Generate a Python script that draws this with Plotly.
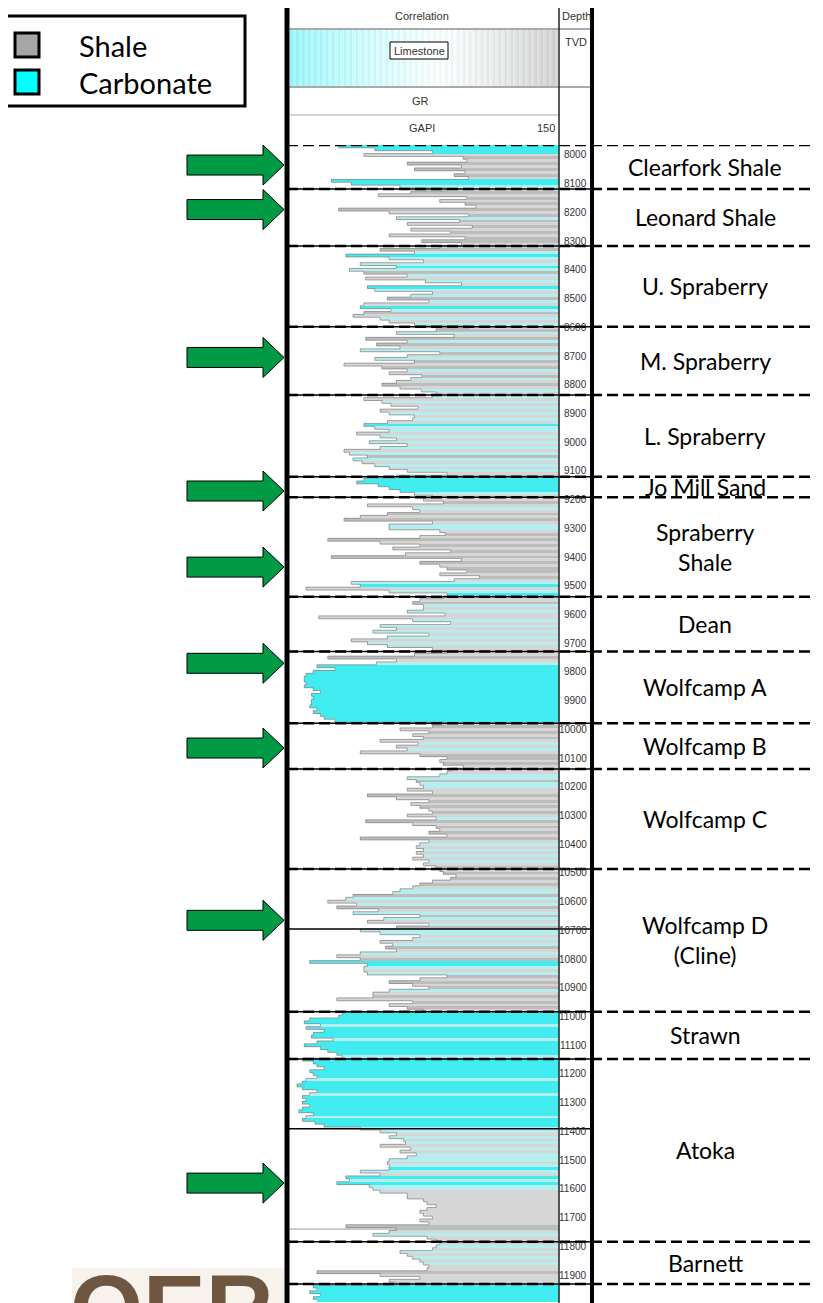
import plotly.graph_objects as go

# page body has an 8px margin; the figure fills the rest of the 823x1303 window
OFF = 8
W, H = 823 - OFF, 1303 - OFF

# ---------------- data ----------------
# GR (GAPI) every 10 ft starting at 7960 ft TVD
gr_rows = [
    [40, 28, 48, 80],                                   # 7960-7990
    [42, 97, 99, 66, 96, 70, 98, 92, 100, 24],           # 8000
    [35, 62, 88, 68, 50, 99, 84, 98, 104, 28],           # 8100
    [56, 100, 60, 95, 66, 102, 68, 90, 56, 98],          # 8200
    [74, 96, 84, 51, 70, 32, 56, 75, 40, 60],            # 8300
    [34, 42, 66, 43, 76, 96, 44, 48, 80, 68],            # 8400
    [55, 78, 42, 40, 57, 42, 36, 51, 56, 70],            # 8500
    [100, 82, 60, 92, 43, 66, 49, 62, 40, 84],           # 8600
    [66, 48, 70, 31, 52, 66, 56, 74, 68, 60],            # 8700
    [52, 62, 74, 82, 80, 42, 52, 57, 72, 51],            # 8800
    [56, 70, 69, 55, 42, 48, 56, 38, 51, 60],            # 8900
    [45, 66, 51, 31, 34, 44, 36, 41, 48, 56],            # 9000
    [66, 88, 60, 42, 38, 50, 56, 62, 70, 80],            # 9100
    [75, 86, 44, 69, 73, 55, 40, 31, 80, 56],            # 9200
    [56, 84, 87, 73, 22, 51, 73, 58, 90, 65],            # 9300
    [24, 96, 73, 84, 88, 99, 84, 106, 92, 35],           # 9400
    [40, 10, 56, 88, 86, 73, 69, 75, 75, 66],            # 9500
    [87, 17, 69, 90, 51, 60, 47, 78, 55, 35],            # 9600
    [44, 55, 80, 88, 70, 22, 60, 49, 16, 26],            # 9700
    [14, 10, 9, 9, 10, 9, 14, 18, 13, 14],               # 9800
    [13, 13, 12, 16, 14, 18, 20, 26, 86, 80],            # 9900
    [62, 78, 69, 75, 51, 72, 60, 66, 40, 73],            # 10000
    [88, 84, 86, 97, 90, 88, 84, 66, 71, 73],            # 10100
    [75, 66, 80, 44, 60, 78, 68, 73, 78, 80],            # 10200
    [66, 82, 43, 69, 82, 84, 78, 88, 40, 78],            # 10300
    [73, 71, 75, 71, 75, 69, 78, 75, 82, 84],            # 10400
    [86, 93, 90, 80, 73, 69, 62, 58, 36, 32],            # 10500
    [22, 38, 27, 50, 36, 73, 53, 44, 78, 60],            # 10600
    [40, 51, 73, 69, 51, 58, 54, 60, 40, 27],            # 10700
    [40, 12, 44, 42, 42, 44, 88, 73, 56, 69],            # 10800
    [78, 56, 47, 47, 27, 69, 56, 66, 75, 30],            # 10900
    [28, 12, 9, 18, 10, 20, 14, 13, 25, 16],             # 11000
    [9, 18, 22, 27, 30, 8, 14, 16, 20, 12],              # 11100
    [14, 16, 10, 8, 5, 8, 16, 12, 8, 10],                # 11200
    [8, 12, 8, 6, 14, 10, 8, 15, 20, 40],                # 11300
    [51, 60, 56, 64, 65, 51, 68, 62, 71, 66],            # 11400
    [56, 55, 56, 56, 40, 51, 32, 34, 27, 45],            # 11500
    [47, 51, 66, 66, 75, 77, 82, 77, 73, 75],            # 11600
    [80, 73, 78, 32, 60, 56, 47, 77, 82, 84],            # 11700
    [82, 80, 62, 66, 69, 73, 75, 78, 77, 16],            # 11800
    [51, 73, 56, 60, 14, 16, 12, 18, 14, 16],            # 11900
]
# lithology class per sample: C = carbonate, c = light carbonate, s = shale, S = dark shale
litho_rows = [
    "CCCC",
    "sSsSsSsSsC", "CcsSsSsSsS", "sScSsSsSsS", "SssScCcscC", "cScscsCcsc",
    "ScsCcSscsc", "sScsScSscS", "scSsScsScs", "Sscscscscs", "cscsCccscs",
    "cscscScscs", "csSCCCCCcs", "sSscsSsSsc", "csSsSsSsSs", "SsSsSSsSsc",
    "CscCssScsc", "sscscscscs", "cssssSscCC", "CCCCCCCCCC", "CCCCCCCCsS",
    "sSsSscscsS", "SsSsssccSc", "cssSsSsSsS", "scSsSsSsSs", "cscscscsSs",
    "SsSsSsccSc", "scSscScscS", "ccscscSscs", "SCCcscSsSs", "ScsSsSsSsC",
    "CCCcCCCCcC", "CCCCcCCCCC", "CCcCCCCcCC", "CCCCCcCCCc", "cscscscscc",
    "cscCcsCcCc", "csssssssss", "sssScscsss", "cscscscssS", "ssssCCCCCC",
]

formation_names = ["Clearfork Shale", "Leonard Shale", "U. Spraberry", "M. Spraberry",
                   "L. Spraberry", "Jo Mill Sand", "Spraberry<br>Shale", "Dean",
                   "Wolfcamp A", "Wolfcamp B", "Wolfcamp C", "Wolfcamp D<br>(Cline)",
                   "Strawn", "Atoka", "Barnett"]
formation_tops = [7965, 8118, 8317, 8598, 8836, 9120, 9192, 9538, 9729, 9979,
                  10138, 10486, 10983, 11148, 11784]
formation_bases = formation_tops[1:] + [11931]
log_marker_lines = [10695, 11391]
thin_marker_line = 11740
arrow_depths = [8035, 8190, 8705, 9170, 9435, 9770, 10065, 10665, 11580]
depth_ticks = list(range(8000, 12000, 100))

legend_items = ["Shale", "Carbonate"]
legend_colors = ["#a6a6a6", "#00ffff"]

# ---------------- derived ----------------
gr = [v for row in gr_rows for v in row]
litho = "".join(litho_rows)
depth = [7960 + 10 * i for i in range(len(gr))]
lith_color = {"C": "#40ecf0", "c": "#b6eef0", "s": "#d6d6d6", "S": "#bdbdbd"}

GR_MAX = 150
D_TOP, D_BOT = 7965.2, 11997.5
PX_PER_FT = (1303 - 145) / (D_BOT - D_TOP)

X_LEFT, X_SEP, X_RIGHT = 287, 559, 592


def px(x):
    return (x - OFF) / W


def py(y):
    return 1 - (y - OFF) / H


fig = go.Figure()

fig.add_trace(go.Bar(
    orientation="h", y=depth, x=[GR_MAX - g for g in gr], base=gr,
    width=10, marker=dict(color=[lith_color[c] for c in litho], line=dict(width=0)),
    hoverinfo="skip", showlegend=False))
fig.add_trace(go.Scatter(
    x=gr, y=[d - 5 for d in depth], mode="lines",
    line=dict(color="#8a8a8a", width=0.8, shape="vh"),
    hoverinfo="skip", showlegend=False))

shapes = []
annotations = []

# header limestone band (gradient with vertical hatching)
x0, x1 = X_LEFT + 3, X_SEP - 1
n = 90
for i in range(n):
    xa = x0 + (x1 - x0) * i / n
    xb = x0 + (x1 - x0) * (i + 1) / n
    t = i / (n - 1)
    if t < 0.55:
        k = t / 0.55
        base = (150 + 95 * k, 240 + 10 * k, 244 + 6 * k)
    else:
        k = (t - 0.55) / 0.45
        base = (245 - 40 * k, 250 - 45 * k, 250 - 45 * k)
    if i % 2:
        base = tuple(min(255, c + 10) for c in base)
    col = "rgb(%d,%d,%d)" % tuple(int(c) for c in base)
    shapes.append(dict(type="rect", xref="paper", yref="paper", x0=px(xa), x1=px(xb),
                       y0=py(86), y1=py(30), fillcolor=col, line=dict(width=0), layer="above"))

# Limestone box
shapes.append(dict(type="rect", xref="paper", yref="paper", x0=px(390), x1=px(448),
                   y0=py(59), y1=py(42), fillcolor="white", line=dict(color="black", width=1),
                   layer="above"))

# header lines
for yy, xa, xb, c, w in [(29, X_LEFT + 2, X_RIGHT, "#555", 1), (87, X_LEFT + 2, X_RIGHT, "#555", 1),
                         (115, X_LEFT + 2, X_SEP, "#aaa", 1)]:
    shapes.append(dict(type="line", xref="paper", yref="paper", x0=px(xa), x1=px(xb),
                       y0=py(yy), y1=py(yy), line=dict(color=c, width=w), layer="above"))

# solid formation lines inside log
for d in formation_tops[1:] + [formation_bases[-1]] + log_marker_lines:
    shapes.append(dict(type="line", xref="paper", yref="y", x0=px(X_LEFT + 2), x1=px(X_RIGHT),
                       y0=d, y1=d, line=dict(color="black", width=1.5), layer="above"))
shapes.append(dict(type="line", xref="paper", yref="y", x0=px(X_LEFT + 2), x1=px(X_SEP),
                   y0=thin_marker_line, y1=thin_marker_line,
                   line=dict(color="#999", width=1), layer="above"))

# dashed formation tops across to the right edge
for d in formation_tops + [formation_bases[-1]]:
    shapes.append(dict(type="line", xref="paper", yref="y", x0=px(X_LEFT), x1=1,
                       y0=d, y1=d, line=dict(color="black", width=2.5, dash="11px,5px"),
                       layer="above"))

# depth labels
for d in depth_ticks:
    annotations.append(dict(xref="paper", yref="y", x=px(589), y=d, text=str(d),
                            xanchor="right", yanchor="middle", showarrow=False,
                            font=dict(family="Liberation Sans", size=10, color="#333")))

# track separators and borders
shapes.append(dict(type="line", xref="paper", yref="paper", x0=px(X_SEP), x1=px(X_SEP),
                   y0=py(6), y1=0, line=dict(color="#222", width=1.5), layer="above"))
shapes.append(dict(type="line", xref="paper", yref="paper", x0=px(X_LEFT - 2), x1=px(X_RIGHT + 2),
                   y0=py(6), y1=py(6), line=dict(color="black", width=4), layer="above"))
shapes.append(dict(type="line", xref="paper", yref="paper", x0=px(X_LEFT), x1=px(X_LEFT),
                   y0=py(4), y1=0, line=dict(color="black", width=5), layer="above"))
shapes.append(dict(type="line", xref="paper", yref="paper", x0=px(X_RIGHT), x1=px(X_RIGHT),
                   y0=py(4), y1=0, line=dict(color="black", width=4), layer="above"))

# green arrows
sh = 10 / PX_PER_FT
hh = 20 / PX_PER_FT
ax0, ax1, ax2 = px(187), px(263), px(284)
for d in arrow_depths:
    path = ("M {a0},{t1} L {a1},{t1} L {a1},{t2} L {a2},{d} L {a1},{b2} L {a1},{b1} "
            "L {a0},{b1} Z").format(a0=ax0, a1=ax1, a2=ax2, d=d, t1=d - sh, t2=d - hh,
                                    b1=d + sh, b2=d + hh)
    shapes.append(dict(type="path", xref="paper", yref="y", path=path,
                       fillcolor="#009a44", line=dict(color="black", width=1), layer="above"))

# legend box
shapes.append(dict(type="rect", xref="paper", yref="paper", x0=px(4), x1=px(245),
                   y0=py(106), y1=py(16), fillcolor="white",
                   line=dict(color="black", width=3), layer="above"))
for i, (name, col) in enumerate(zip(legend_items, legend_colors)):
    yc = 45 + i * 37
    shapes.append(dict(type="rect", xref="paper", yref="paper", x0=px(15), x1=px(39),
                       y0=py(yc + 12), y1=py(yc - 12), fillcolor=col,
                       line=dict(color="black", width=3), layer="above"))
    annotations.append(dict(xref="paper", yref="paper", x=px(77), y=py(yc), text=name,
                            xanchor="left", yanchor="middle", showarrow=False,
                            font=dict(family="Lato", size=29, color="black")))

# logo background
shapes.append(dict(type="rect", xref="paper", yref="paper", x0=px(72), x1=px(284),
                   y0=0, y1=py(1268), fillcolor="#f7f3ec", line=dict(width=0), layer="below"))

# header texts
hfont = dict(family="Liberation Sans", size=11, color="#333")
for txt, x, y, anc in [("Correlation", 422, 16, "center"), ("Depth", 576, 16, "center"),
                       ("TVD", 576, 42, "center"), ("Limestone", 419, 50.5, "center"),
                       ("GR", 420, 101, "center"), ("GAPI", 422, 128, "center"),
                       ("150", 557, 128, "right")]:
    annotations.append(dict(xref="paper", yref="paper", x=px(x), y=py(y), text=txt,
                            xanchor=anc, yanchor="middle", showarrow=False, font=hfont))

# formation names
for name, t, b in zip(formation_names, formation_tops, formation_bases):
    annotations.append(dict(xref="paper", yref="y", x=px(705), y=(t + b) / 2, text=name,
                            xanchor="center", yanchor="middle", showarrow=False,
                            font=dict(family="Lato", size=23, color="black")))

# logo text
annotations.append(dict(xref="paper", yref="paper", x=px(68), y=py(1254), text="<b>OER</b>",
                        xanchor="left", yanchor="top", showarrow=False,
                        font=dict(family="Liberation Sans", size=94, color="#6e5641")))

fig.update_layout(
    width=W, height=H, margin=dict(l=0, r=0, t=0, b=0),
    paper_bgcolor="white", plot_bgcolor="white", bargap=0,
    xaxis=dict(domain=[px(X_LEFT + 1), px(X_SEP)], range=[0, GR_MAX], visible=False,
               fixedrange=True),
    yaxis=dict(domain=[0, py(145)], range=[D_BOT, D_TOP], visible=False, fixedrange=True),
    shapes=shapes, annotations=annotations, showlegend=False,
)

fig.write_html("out.html")
